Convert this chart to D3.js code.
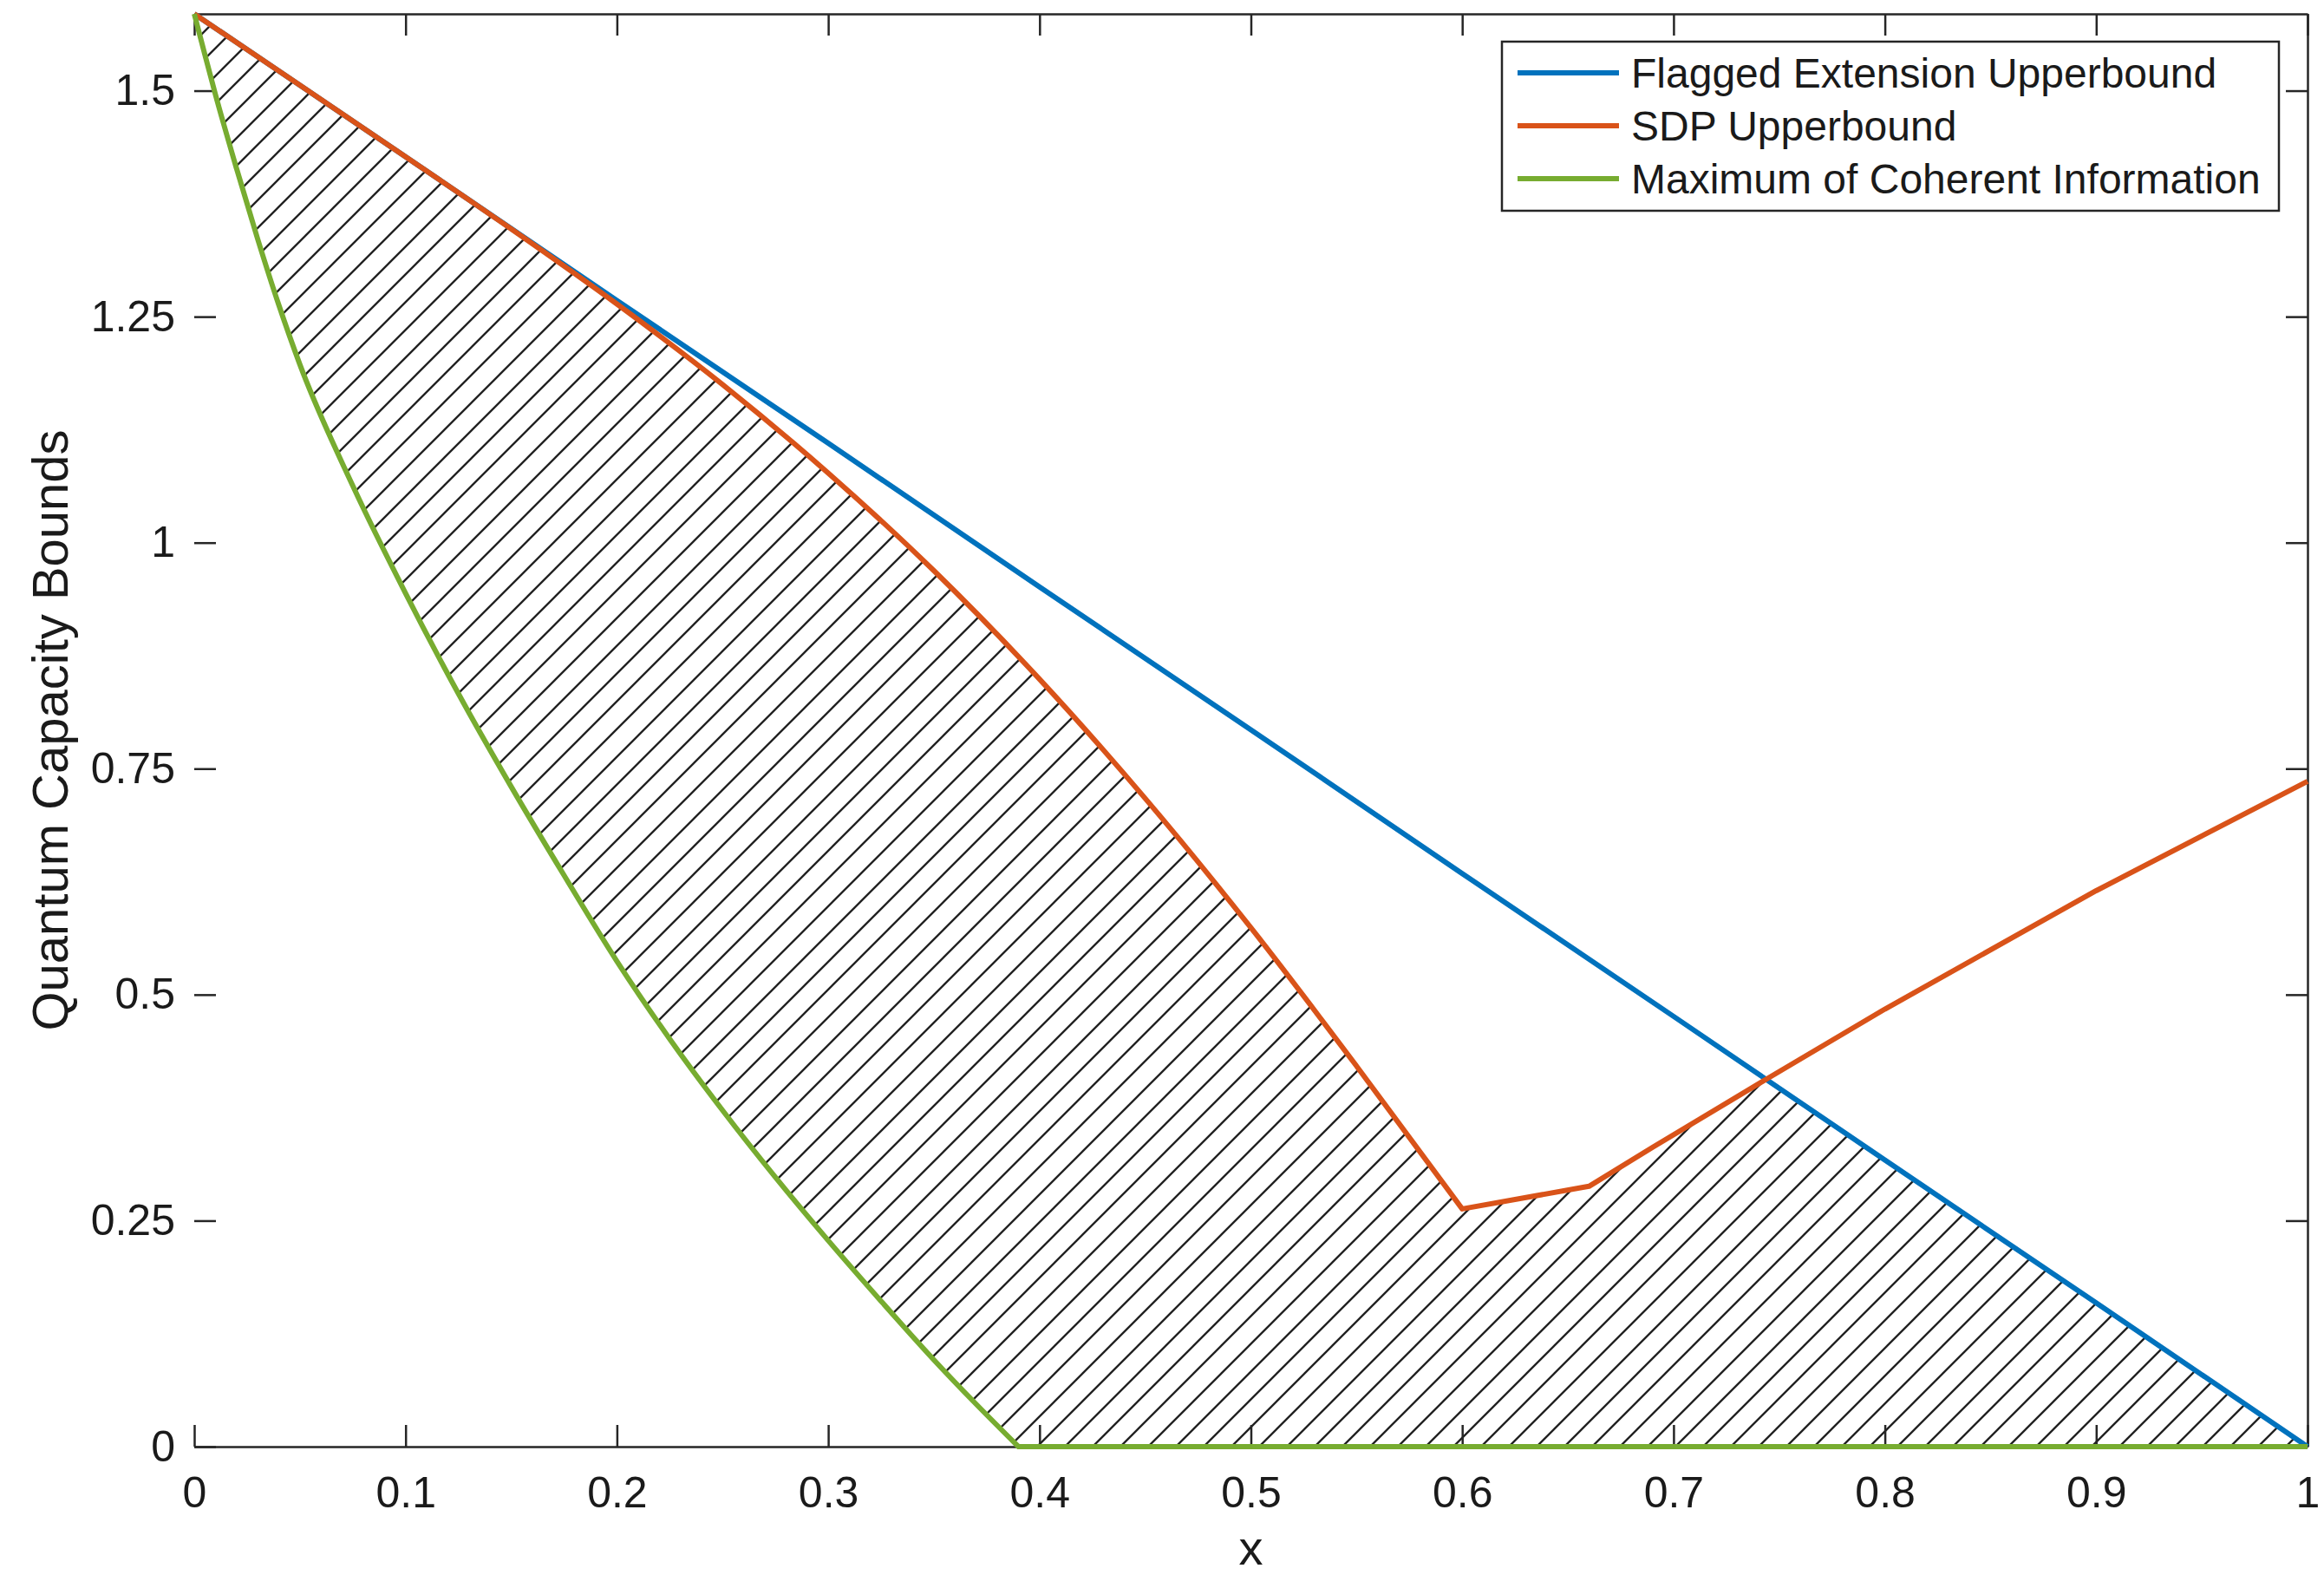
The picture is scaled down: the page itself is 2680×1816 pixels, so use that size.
<!DOCTYPE html>
<html>
<head>
<meta charset="utf-8">
<script src="https://cdn.jsdelivr.net/npm/d3@7"></script>
<style>
  body { margin: 0; background: #fff; }
  text { font-family: "Liberation Sans", Arial, Helvetica, sans-serif; fill: #1a1a1a; }
</style>
</head>
<body>
<script>
// series
const seriesNames = ["Flagged Extension Upperbound", "SDP Upperbound", "Maximum of Coherent Information"];
const seriesColors = ["#0072BD", "#D95319", "#77AC30"];

const xBlue = [0, 0.1, 0.2, 0.3, 0.4, 0.5, 0.6, 0.7, 0.8, 0.9, 1];
const yBlue = [1.585, 1.427, 1.268, 1.11, 0.951, 0.793, 0.634, 0.476, 0.317, 0.159, 0];

const xOrange = [0, 0.05, 0.1, 0.15, 0.2, 0.25, 0.3, 0.35, 0.4, 0.45, 0.5, 0.55, 0.6, 0.66, 0.69, 0.745, 0.8, 0.9, 1];
const yOrange = [1.585, 1.506, 1.427, 1.347, 1.264, 1.175, 1.077, 0.969, 0.849, 0.717, 0.574, 0.421, 0.263, 0.288, 0.331, 0.408, 0.484, 0.615, 0.736];

const xGreen = [0, 0.005, 0.01, 0.02, 0.03, 0.04, 0.05, 0.075, 0.1, 0.125, 0.15, 0.175, 0.2, 0.225, 0.25, 0.275, 0.3, 0.325, 0.35, 0.37, 0.39, 1];
const yGreen = [1.585, 1.54, 1.496, 1.414, 1.336, 1.263, 1.197, 1.063, 0.944, 0.833, 0.730, 0.632, 0.537, 0.451, 0.372, 0.298, 0.228, 0.161, 0.096, 0.047, 0, 0];

const xTicks = [0, 0.1, 0.2, 0.3, 0.4, 0.5, 0.6, 0.7, 0.8, 0.9, 1];
const yTicks = [0, 0.25, 0.5, 0.75, 1, 1.25, 1.5];
const yMax = Math.log2(3);

const zip = (xs, ys) => xs.map((v, i) => ({ x: v, y: ys[i] }));
const blue = zip(xBlue, yBlue);
const orange = zip(xOrange, yOrange);
const green = zip(xGreen, yGreen);

const W = 2680, H = 1816;
const margin = { top: 16, right: 19, bottom: 148, left: 224 };
const width = W - margin.left - margin.right;
const height = H - margin.top - margin.bottom;

const root = d3.select("body").append("svg")
    .attr("width", W)
    .attr("height", H);

root.append("rect").attr("width", W).attr("height", H).attr("fill", "#fff");

const defs = root.append("defs");

// diagonal hatch
const pat = defs.append("pattern")
    .attr("id", "hatch")
    .attr("patternUnits", "userSpaceOnUse")
    .attr("width", 32)
    .attr("height", 32);
pat.append("path")
    .attr("d", "M-8,8 L8,-8 M0,32 L32,0 M24,40 L40,24")
    .attr("stroke", "#222")
    .attr("stroke-width", 2.4);

const svg = root.append("g")
    .attr("transform", `translate(${margin.left},${margin.top})`);

const x = d3.scaleLinear().domain([0, 1]).range([0, width]);
const y = d3.scaleLinear().domain([0, yMax]).range([height, 0]);

// smooth part up to a kink, straight segments after it
const smoothLine = d3.line().x(d => x(d.x)).y(d => y(d.y)).curve(d3.curveMonotoneX);
function tracePath(pts, kink) {
    const head = pts.slice(0, kink + 1);
    const tail = pts.slice(kink + 1);
    return smoothLine(head) + tail.map(d => `L${x(d.x)},${y(d.y)}`).join("");
}
const greenKink = yGreen.indexOf(0);
const orangeKink = yOrange.indexOf(d3.min(yOrange));
const bluePath = d3.line().x(d => x(d.x)).y(d => y(d.y))(blue);
const orangePath = tracePath(orange, orangeKink);
const greenPath = tracePath(green, greenKink);

const closeBelow = `L${x(1)},${y(0)}L${x(0)},${y(0)}Z`;
const closeAbove = `L${x(1)},${y(yMax)}L${x(0)},${y(yMax)}Z`;

defs.append("clipPath").attr("id", "underBlue")
    .append("path").attr("d", bluePath + closeBelow);
defs.append("clipPath").attr("id", "underOrange")
    .append("path").attr("d", orangePath + closeBelow);

// hatched band: above green, under both upper bounds
svg.append("g").attr("clip-path", "url(#underBlue)")
    .append("g").attr("clip-path", "url(#underOrange)")
    .append("path")
    .attr("d", greenPath + closeAbove)
    .attr("fill", "url(#hatch)");

// axes
const tickLen = 25;
const fs = 50;

const xAxis = svg.append("g")
    .attr("transform", `translate(0,${height})`)
    .call(d3.axisBottom(x).tickValues(xTicks).tickSizeInner(-tickLen).tickSizeOuter(0)
        .tickPadding(34).tickFormat(d3.format("~g")));

const yAxis = svg.append("g")
    .call(d3.axisLeft(y).tickValues(yTicks).tickSizeInner(-tickLen).tickSizeOuter(0)
        .tickPadding(22).tickFormat(d => String(d)));
yAxis.select(".domain").remove();

const topAxis = svg.append("g")
    .call(d3.axisTop(x).tickValues(xTicks).tickSizeInner(-tickLen).tickSizeOuter(0).tickFormat(""));

const rightAxis = svg.append("g")
    .attr("transform", `translate(${width},0)`)
    .call(d3.axisRight(y).tickValues(yTicks).tickSizeInner(-tickLen).tickSizeOuter(0).tickFormat(""));

[xAxis, yAxis, topAxis, rightAxis].forEach(g => {
    g.attr("font-family", null).attr("font-size", null);
    g.selectAll("line").attr("stroke", "#262626").attr("stroke-width", 2.5);
    g.selectAll(".domain").attr("stroke", "#262626").attr("stroke-width", 2.5);
    g.selectAll("text").style("font-size", fs + "px").attr("fill", "#1a1a1a");
});

// the lines
const lw = 6;
svg.append("path")
    .attr("d", bluePath).attr("fill", "none")
    .attr("stroke", seriesColors[0]).attr("stroke-width", lw);
svg.append("path")
    .attr("d", orangePath).attr("fill", "none")
    .attr("stroke", seriesColors[1]).attr("stroke-width", lw).attr("stroke-linejoin", "round");
svg.append("path")
    .attr("d", greenPath).attr("fill", "none")
    .attr("stroke", seriesColors[2]).attr("stroke-width", lw).attr("stroke-linejoin", "round");

// axis labels
svg.append("text")
    .attr("x", x(0.5))
    .attr("y", height + 136)
    .attr("text-anchor", "middle")
    .style("font-size", "56px")
    .text("x");

svg.append("text")
    .attr("transform", `translate(${78 - margin.left},${height / 2}) rotate(-90)`)
    .attr("text-anchor", "middle")
    .style("font-size", "58px")
    .text("Quantum Capacity Bounds");

// legend
const lg = root.append("g").attr("transform", "translate(1732,48)");
lg.append("rect")
    .attr("width", 896).attr("height", 195)
    .attr("fill", "#fff")
    .attr("stroke", "#262626").attr("stroke-width", 2.5);

seriesNames.forEach((name, i) => {
    const yy = 36 + i * 61;
    lg.append("line")
        .attr("x1", 18).attr("x2", 135)
        .attr("y1", yy).attr("y2", yy)
        .attr("stroke", seriesColors[i]).attr("stroke-width", lw);
    lg.append("text")
        .attr("x", 149).attr("y", yy)
        .attr("dy", "0.35em")
        .style("font-size", "48px")
        .attr("fill", "#000")
        .text(name);
});
</script>
</body>
</html>
